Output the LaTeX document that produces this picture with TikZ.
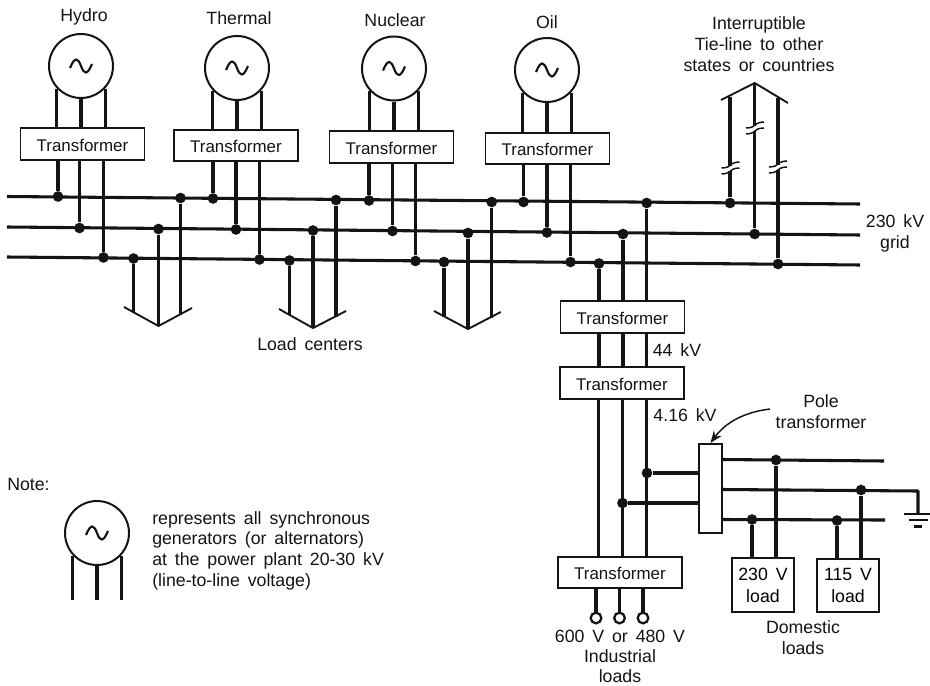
\documentclass[tikz,border=0pt]{standalone}
\usepackage{fontspec}
\setmainfont[WordSpace=1.6]{Liberation Sans}
\usetikzlibrary{calc,arrows.meta}
\definecolor{ink}{gray}{0.08}
\newcommand{\lbl}{\fontsize{13.3}{15}\selectfont}
\newcommand{\tlbl}{\fontsize{12.7}{15}\selectfont}
\tikzset{
  wire/.style={draw=ink,line width=2.3pt},
  gen/.style={circle,draw=ink,line width=1.5pt,fill=white,minimum size=48pt,inner sep=0pt},
  tbox/.style={rectangle,draw=ink,line width=1.35pt,fill=white,minimum width=93pt,minimum height=23.5pt,inner sep=0pt},
  loadbox/.style={rectangle,draw=ink,line width=1.35pt,fill=white,minimum width=46.5pt,minimum height=40pt,inner sep=0pt,align=center,font=\lbl,text depth=0pt},
  pole/.style={rectangle,draw=ink,line width=1.35pt,fill=white,minimum width=17pt,minimum height=67pt,inner sep=0pt},
  dot/.style={circle,fill=ink,draw=none,minimum size=8pt,inner sep=0pt},
  term/.style={circle,draw=ink,line width=1.7pt,fill=white,minimum size=8pt,inner sep=0pt},
  lbl/.style={font=\lbl,text=ink,align=center,inner sep=0pt},
  tilde/.pic={\draw[ink,line width=1.6pt] (-11,2) .. controls (-6,-10) and (-3,-8) .. (0,0) .. controls (3,8) and (6,10) .. (11,-2);},
  cut/.pic={
    \fill[white] (-9,-2.5) rectangle (9,2.5);
    \draw[ink,line width=1.1pt] (-9,0) .. controls (-3,0) and (-1,-2) .. (0,-3) .. controls (2,-5) and (6,-6) .. (9,-6);
    \draw[ink,line width=1.1pt] (-9,6) .. controls (-6,6) and (-2,5) .. (0,3) .. controls (1,2) and (3,0) .. (9,0);
  }
}
\begin{document}
\begin{tikzpicture}[x=0.75pt,y=-0.75pt]
\useasboundingbox[fill=white] (0,0) rectangle (930,685);

% buses
\coordinate (b1l) at (7,196.5);  \coordinate (b1r) at (860,204);
\coordinate (b2l) at (7,227);    \coordinate (b2r) at (860,235);
\coordinate (b3l) at (7,257);    \coordinate (b3r) at (860,265);
\draw[wire] (b1l) -- (b1r);
\draw[wire] (b2l) -- (b2r);
\draw[wire] (b3l) -- (b3r);

% generators
\node[gen] (g1) at (81,66) {};
\node[gen] (g2) at (237,68) {};
\node[gen] (g3) at (394,68.5) {};
\node[gen] (g4) at (547,70) {};
\node[gen] (gn) at (97,533) {};

% transformers
\node[tbox] (t1) at (82.5,144) {};
\node[tbox] (t2) at (236,145.5) {};
\node[tbox] (t3) at (391.5,147) {};
\node[tbox] (t4) at (547.5,148.5) {};
\node[tbox] (t5) at (622.5,317) {};
\node[tbox] (t6) at (622,383) {};
\node[tbox] (t7) at (620,572.5) {};
\foreach \n in {t1,t2,t3,t4,t5,t6,t7} \node[lbl,font=\tlbl] at ($(\n.center)+(0,1)$) {Transformer};

% generator leads
\foreach \g/\t in {g1/t1,g2/t2,g3/t3,g4/t4}{
  \draw[wire] (\g.-137) -- (\g.-137 |- \t.north);
  \draw[wire] (\g.south) -- (\g.south |- \t.north);
  \draw[wire] (\g.-43) -- (\g.-43 |- \t.north);
}
\foreach \g in {g1,g2,g3,g4,gn} \pic at (\g.center) {tilde};

% bus junctions
\foreach \n/\x/\y in {
  a1/58/196.5, a2/79.5/228, a3/103.5/257.5,
  b1/213/198.5, b2/236/229.5, b3/259.5/259.5,
  c1/369/200.5, c2/392.5/231, c3/415.5/261,
  d1/523.5/202, d2/547/232.5, d3/570.5/262,
  l1a/133.5/258.5, l1b/158.5/229, l1c/180.5/198,
  l2a/289.5/260.5, l2b/313/230.5, l2c/336/200,
  l3a/444/262, l3b/468/233, l3c/491.7/202,
  x1/599/263.5, x2/623/234, x3/646.7/203,
  y1/730/203, y2/754.7/234, y3/778/264}
  \node[dot] (\n) at (\x,\y) {};

% transformer to bus
\foreach \t/\p/\q/\r in {t1/a1/a2/a3,t2/b1/b2/b3,t3/c1/c2/c3,t4/d1/d2/d3}{
  \draw[wire] (\p |- \t.south) -- (\p);
  \draw[wire] (\q |- \t.south) -- (\q);
  \draw[wire] (\r |- \t.south) -- (\r);
}

% load centre arrows
\coordinate (h1l) at (124,307); \coordinate (h1t) at (158.5,326); \coordinate (h1r) at (192,308);
\coordinate (h2l) at (279,309); \coordinate (h2t) at (313,328);   \coordinate (h2r) at (346,311);
\coordinate (h3l) at (434,311); \coordinate (h3t) at (468,329);   \coordinate (h3r) at (500.7,312);
\foreach \k in {1,2,3}{
  \draw[ink,line width=1.4pt] (h\k l) -- (h\k t) -- (h\k r);
}
\draw[wire] (l1a) -- (l1a |- 0,313);
\draw[wire] (l1b) -- (h1t);
\draw[wire] (l1c) -- (l1c |- 0,315);
\draw[wire] (l2a) -- (l2a |- 0,315);
\draw[wire] (l2b) -- (h2t);
\draw[wire] (l2c) -- (l2c |- 0,317);
\draw[wire] (l3a) -- (l3a |- 0,317);
\draw[wire] (l3b) -- (h3t);
\draw[wire] (l3c) -- (l3c |- 0,318);

% tie lines
\coordinate (tl) at (721,100); \coordinate (tt) at (754.7,83); \coordinate (tr) at (788,103);
\draw[ink,line width=1.4pt] (tl) -- (tt) -- (tr);
\draw[wire] (y1) -- (y1 |- 0,97);
\draw[wire] (y2) -- (tt);
\draw[wire] (y3) -- (y3 |- 0,98);
\pic at (730.5,168) {cut};
\pic at (755,128) {cut};
\pic at (778,167) {cut};

% down to substations
\foreach \n in {x1,x2,x3} \draw[wire] (\n) -- (\n |- t5.north);
\foreach \n in {x1,x2,x3} \draw[wire] (\n |- t5.south) -- (\n |- t6.north);

% 4.16 kV feeders
\node[dot] (f1) at (647,473) {};
\node[dot] (f2) at (622.5,503) {};
\node[pole] (pt) at (710.5,488.5) {};
\coordinate (s1) at (598.5,0); \coordinate (s2) at (622.5,0); \coordinate (s3) at (646.5,0);
\foreach \s in {s1,s2,s3} \draw[wire] (\s |- t6.south) -- (\s |- t7.north);
\draw[wire] (f1) -- (f1 -| pt.west);
\draw[wire] (f2) -- (f2 -| pt.west);

% industrial terminals
\node[term] (o1) at (596,618) {};
\node[term] (o2) at (619.5,618) {};
\node[term] (o3) at (643,618) {};
\foreach \o in {o1,o2,o3} \draw[wire] (\o |- t7.south) -- (\o.north);

% secondary lines
\coordinate (e1) at (884,461); \coordinate (e3) at (885,520);
\coordinate (e2) at (918,491); \coordinate (gd) at (918,513.5);
\coordinate (s1r) at (722,459.5); \coordinate (s2r) at (722,489.5); \coordinate (s3r) at (722,519.5);
\draw[wire] (s1r) -- (e1);
\draw[wire] (s3r) -- (e3);
\draw[wire,line join=round] (s2r) -- (e2) -- (gd);
\draw[ink,line width=1.5pt] ($(gd)+(-14,0)$) -- ($(gd)+(12,0)$);
\draw[ink,line width=1.5pt] ($(gd)+(-9,6.5)$) -- ($(gd)+(10,6.5)$);
\draw[ink,line width=1.8pt] ($(gd)+(-4,13)$) -- ($(gd)+(4,13)$);

% domestic loads
\node[loadbox] (ld1) at (763,585) {230 V\\[1.5pt]load};
\node[loadbox] (ld2) at (848,585.5) {115 V\\[1.5pt]load};
\node[dot] (p1) at (776,460) {};
\node[dot] (p2) at (861,490) {};
\node[dot] (p3) at (752,519.5) {};
\node[dot] (p4) at (837,520.5) {};
\draw[wire] (p1) -- (p1 |- ld1.north);
\draw[wire] (p3) -- (p3 |- ld1.north);
\draw[wire] (p2) -- (p2 |- ld2.north);
\draw[wire] (p4) -- (p4 |- ld2.north);

% pole transformer pointer
\coordinate (pc) at (770,409);
\draw[ink,line width=1.1pt,-{Stealth[length=9pt,width=7pt]}] (pc) .. controls (745,412) and (726,422) .. (pt.north);

% note leads
\draw[wire] (gn.-137) -- (gn.-137 |- 0,600);
\draw[wire] (gn.south) -- (gn.south |- 0,600);
\draw[wire] (gn.-43) -- (gn.-43 |- 0,600);

% labels
\node[lbl] (n1) at (84,17) {Hydro};
\node[lbl] (n2) at (239,18) {Thermal};
\node[lbl] (n3) at (395,20) {Nuclear};
\node[lbl] (n4) at (547,22) {Oil};
\node[lbl,anchor=north] (n5) at (759,16) {Interruptible\\[1pt]Tie-line to other\\[1pt]states or countries};
\node[lbl,anchor=north] (n6) at (895,214) {230 kV\\[1pt]grid};
\node[lbl] (n7) at (310,344) {Load centers};
\node[lbl] (n8) at (677,350) {44 kV};
\node[lbl] (n9) at (685,415) {4.16 kV};
\node[lbl,anchor=north] (n10) at (821,394) {Pole\\[1pt]transformer};
\node[lbl,anchor=west] (n11) at (7,484) {Note:};
\node[lbl,anchor=north west,align=left] (n12) at (152,511) {represents all synchronous\\[0.5pt]generators (or alternators)\\[0.5pt]at the power plant 20-30 kV\\[0.5pt](line-to-line voltage)};
\node[lbl,anchor=north] (n13) at (620,629.5) {600 V or 480 V\\[0pt]Industrial\\[0pt]loads};
\node[lbl,anchor=north] (n14) at (803,620) {Domestic\\[1pt]loads};
\end{tikzpicture}
\end{document}
